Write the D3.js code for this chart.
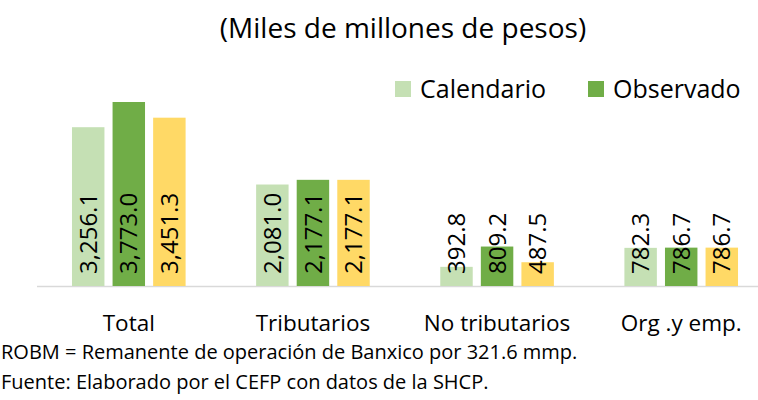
<!DOCTYPE html>
<html>
<head>
<meta charset="utf-8">
<script src="https://cdn.jsdelivr.net/npm/d3@7"></script>
<style>
  body { margin: 0; background: #fff; }
  svg text { font-family: "Open Sans", "Noto Sans", sans-serif; fill: #000; }
</style>
</head>
<body>
<div id="chart"></div>
<script>
// Data
const categories = ['Total', 'Tributarios', 'No tributarios', 'Org .y emp.'];
const seriesNames = ['Calendario', 'Observado', 'Estimado'];
const calendario = [3256.1, 2081.0, 392.8, 782.3];
const observado = [3773.0, 2177.1, 809.2, 786.7];
const estimado = [3451.3, 2177.1, 487.5, 786.7];
const colors = ['#c5e0b4', '#70ad47', '#ffd966'];
const title = '(Miles de millones de pesos)';
const notes = [
    'ROBM = Remanente de operación de Banxico por 321.6 mmp.',
    'Fuente: Elaborado por el CEFP con datos de la SHCP.'
];

const W = 758, H = 400;
const baseY = 286, topY = 102;

const svg = d3.select('#chart').append('svg')
    .attr('width', W)
    .attr('height', H);

// Scales (plot area runs past the right edge, as in the cropped original)
const x0 = d3.scaleBand().domain(categories).range([37, 773]).paddingInner(0.383).paddingOuter(0.19);
const x1 = d3.scaleBand().domain(seriesNames).range([0, x0.bandwidth()]).paddingInner(0.2);
const y = d3.scaleLinear().domain([0, d3.max(observado)]).range([baseY, topY]);

const rows = categories.map((c, i) => ({
    cat: c,
    vals: [calendario[i], observado[i], estimado[i]].map((v, j) => ({ name: seriesNames[j], value: v, color: colors[j] }))
}));

// Title
svg.append('text')
    .attr('x', 403)
    .attr('y', 38)
    .attr('text-anchor', 'middle')
    .attr('font-size', '28px')
    .text(title);

// Legend (only the two entries visible in the cropped original)
const legend = svg.append('g').attr('class', 'legend');
const legendX = [395, 588];
legendX.forEach((lx, i) => {
    const g = legend.append('g').attr('transform', `translate(${lx},81)`);
    g.append('rect').attr('width', 16).attr('height', 16).attr('fill', colors[i]);
    g.append('text').attr('x', 25).attr('y', 16.5).attr('font-size', '25px').text(seriesNames[i]);
});

// Axis line
svg.append('line')
    .attr('x1', 37).attr('x2', 773)
    .attr('y1', baseY + 0.5).attr('y2', baseY + 0.5)
    .attr('stroke', '#d9d9d9')
    .attr('stroke-width', 1.5);

// Bars
const groups = svg.selectAll('.group')
    .data(rows)
    .enter().append('g')
    .attr('class', 'group')
    .attr('transform', d => `translate(${x0(d.cat)},0)`);

groups.selectAll('rect')
    .data(d => d.vals)
    .enter().append('rect')
    .attr('x', d => x1(d.name))
    .attr('width', x1.bandwidth())
    .attr('y', d => y(d.value))
    .attr('height', d => baseY - y(d.value))
    .attr('fill', d => d.color);

// Value labels, rotated, anchored at the inside base
const fmt = d3.format(',.1f');
groups.selectAll('.val')
    .data(d => d.vals)
    .enter().append('text')
    .attr('class', 'val')
    .attr('transform', d => `translate(${x1(d.name) + x1.bandwidth() / 2},${baseY - 12}) rotate(-90)`)
    .attr('dy', '0.36em')
    .attr('font-size', '24px')
    .text(d => fmt(d.value));

// Category labels
svg.selectAll('.cat')
    .data(categories)
    .enter().append('text')
    .attr('class', 'cat')
    .attr('x', d => x0(d) + x0.bandwidth() / 2)
    .attr('y', 331)
    .attr('text-anchor', 'middle')
    .attr('font-size', '22.5px')
    .text(d => d);

// Footnotes
svg.selectAll('.note')
    .data(notes)
    .enter().append('text')
    .attr('class', 'note')
    .attr('x', 1)
    .attr('y', (d, i) => 359 + i * 30)
    .attr('font-size', '20px')
    .text(d => d);
</script>
</body>
</html>
